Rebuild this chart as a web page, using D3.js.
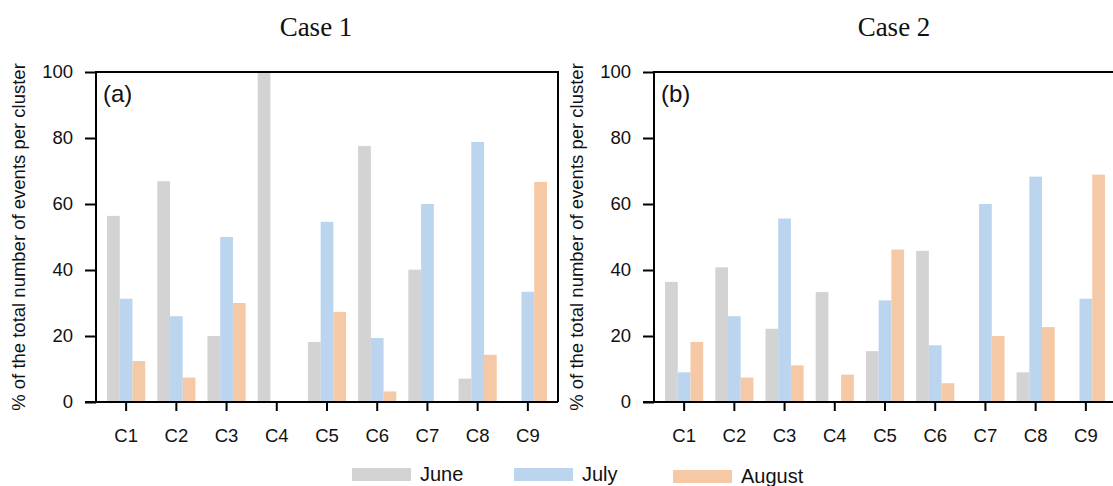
<!DOCTYPE html>
<html>
<head>
<meta charset="utf-8">
<script src="https://cdn.jsdelivr.net/npm/d3@7"></script>
<style>
  body { margin: 0; background: #fff; }
  svg text { font-family: "Liberation Sans", Arial, sans-serif; fill: #111; }
</style>
</head>
<body>
<svg id="chart" width="1113" height="486"></svg>
<script>
// clusters and months
var clusters = ["C1", "C2", "C3", "C4", "C5", "C6", "C7", "C8", "C9"];
var months = ["June", "July", "August"];
var monthColors = ["#d3d3d3", "#bcd5ee", "#f6c9a6"];
var yTicks = [0, 20, 40, 60, 80, 100];

// Case 1 percentages per cluster
var case1June   = [56.4, 66.9, 20.0, 100, 18.2, 77.6, 40.1, 7.1, 0];
var case1July   = [31.3, 26.0, 50.0, 0, 54.6, 19.4, 60.0, 78.8, 33.4];
var case1August = [12.4, 7.4, 30.0, 0, 27.3, 3.2, 0, 14.3, 66.7];

// Case 2 percentages per cluster
var case2June   = [36.4, 40.8, 22.2, 33.3, 15.4, 45.8, 0, 9.0, 0];
var case2July   = [9.0, 26.0, 55.6, 0, 30.8, 17.2, 60.0, 68.3, 31.3];
var case2August = [18.2, 7.4, 11.1, 8.3, 46.2, 5.7, 20.0, 22.7, 68.9];

var panels = [
  { title: "Case 1", tag: "(a)", left: 96, titleX: 316, series: [case1June, case1July, case1August] },
  { title: "Case 2", tag: "(b)", left: 654, titleX: 894, series: [case2June, case2July, case2August] }
];

var svg = d3.select("#chart");
var plotTop = 72, plotBottom = 402, plotW = 462;

var y = d3.scaleLinear().domain([0, 100]).range([plotBottom, plotTop]);

panels.forEach(function(p) {
  var g = svg.append("g");

  var x = d3.scaleBand()
    .domain(clusters)
    .range([p.left, p.left + plotW])
    .paddingInner(0)
    .paddingOuter(0.1);

  var xm = d3.scaleBand()
    .domain(months)
    .range([x.bandwidth() * 0.12, x.bandwidth() * 0.88]);

  // bars
  months.forEach(function(m, mi) {
    g.append("g")
      .selectAll("rect")
      .data(p.series[mi])
      .join("rect")
      .attr("x", function(d, i) { return x(clusters[i]) + xm(m); })
      .attr("y", function(d) { return y(d); })
      .attr("width", xm.bandwidth())
      .attr("height", function(d) { return plotBottom - y(d); })
      .attr("fill", monthColors[mi]);
  });

  // frame top/right
  g.append("path")
    .attr("d", "M" + p.left + "," + plotTop + "H" + (p.left + plotW) + "V" + plotBottom)
    .attr("fill", "none")
    .attr("stroke", "#000")
    .attr("stroke-width", 2);

  // axes
  var yAxis = g.append("g")
    .attr("transform", "translate(" + p.left + ",0)")
    .call(d3.axisLeft(y).tickValues(yTicks).tickSize(11).tickPadding(12).tickSizeOuter(0));
  var xAxis = g.append("g")
    .attr("transform", "translate(0," + plotBottom + ")")
    .call(d3.axisBottom(x).tickSize(9).tickPadding(18).tickSizeOuter(0));

  [yAxis, xAxis].forEach(function(a) {
    a.select(".domain").attr("stroke-width", 2);
    a.selectAll(".tick line").attr("stroke-width", 2);
    a.selectAll("text").style("font-size", "18.5px").attr("fill", "#111");
  });
  yAxis.select(".domain").attr("d", "M0," + (plotBottom + 1) + "V" + (plotTop - 1));
  xAxis.select(".domain").attr("d", "M" + (p.left - 11) + ",0H" + (p.left + plotW));

  // y label
  g.append("text")
    .attr("transform", "translate(" + (p.left - 77) + "," + 237 + ") rotate(-90)")
    .attr("text-anchor", "middle")
    .attr("dy", "0.35em")
    .style("font-size", "18.5px")
    .text("% of the total number of events per cluster");

  // panel tag
  g.append("text")
    .attr("x", p.left + 7)
    .attr("y", plotTop + 30)
    .style("font-size", "24px")
    .text(p.tag);

  // title
  g.append("text")
    .attr("x", p.titleX)
    .attr("y", 36)
    .attr("text-anchor", "middle")
    .style("font-family", "'Liberation Serif', 'Times New Roman', serif")
    .style("font-size", "27px")
    .text(p.title);
});

// legend
var legendX = [352, 514, 673];
var legendY = [468, 468, 470];
var legend = svg.append("g")
  .selectAll("g")
  .data(months)
  .join("g")
  .attr("transform", function(d, i) { return "translate(" + legendX[i] + "," + legendY[i] + ")"; });

legend.append("rect")
  .attr("width", 59)
  .attr("height", 13)
  .attr("fill", function(d, i) { return monthColors[i]; });

legend.append("text")
  .attr("x", 68)
  .attr("y", 13)
  .style("font-size", "20px")
  .text(function(d) { return d; });
</script>
</body>
</html>
